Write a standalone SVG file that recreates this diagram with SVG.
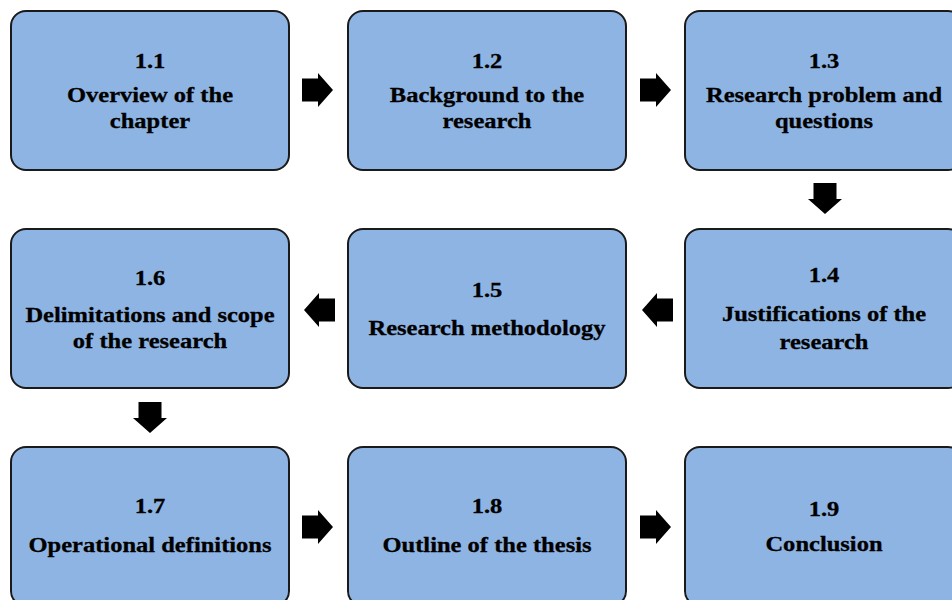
<svg xmlns="http://www.w3.org/2000/svg" xmlns:xlink="http://www.w3.org/1999/xlink" width="952" height="600" viewBox="0 0 952 600">
  <style>
    .box { fill: #8eb4e3; stroke: #1a1a1a; stroke-width: 2; }
    .lbl { font-family: "Liberation Serif", "Times New Roman", serif; font-weight: bold; font-size: 22px; fill: #000; stroke: #000; stroke-width: 0.3; text-anchor: middle; }
    .arrow { fill: #000; }
  </style>
  <defs>
    <!-- block arrow pointing right, origin at tail centre -->
    <path id="blockArrow" d="M0,-11.5 H16 V-17 L31,0 L16,17 V11.5 H0 Z"/>
  </defs>
  <rect width="952" height="600" fill="#ffffff"/>

  <g id="connectors" class="arrow">
    <use xlink:href="#blockArrow" transform="translate(302,90)"/>
    <use xlink:href="#blockArrow" transform="translate(640,90)"/>
    <use xlink:href="#blockArrow" transform="translate(825,183) rotate(90)"/>
    <use xlink:href="#blockArrow" transform="translate(673,310) rotate(180)"/>
    <use xlink:href="#blockArrow" transform="translate(335,310) rotate(180)"/>
    <use xlink:href="#blockArrow" transform="translate(150,402) rotate(90)"/>
    <use xlink:href="#blockArrow" transform="translate(302,527)"/>
    <use xlink:href="#blockArrow" transform="translate(640,527)"/>
  </g>

  <!-- labels are set in a slightly widened face: each text group is scaled 1.115 horizontally about the box centre -->
  <g id="n1-1">
    <rect class="box" x="11" y="11" width="278" height="159" rx="15"/>
    <g transform="matrix(1.115 0 0 1 150 0)">
      <text class="lbl" x="0" y="68">1.1</text>
      <text class="lbl" x="0" y="102">Overview of the</text>
      <text class="lbl" x="0" y="128">chapter</text>
    </g>
  </g>
  <g id="n1-2">
    <rect class="box" x="348" y="11" width="278" height="159" rx="15"/>
    <g transform="matrix(1.115 0 0 1 487 0)">
      <text class="lbl" x="0" y="68">1.2</text>
      <text class="lbl" x="0" y="102">Background to the</text>
      <text class="lbl" x="0" y="128">research</text>
    </g>
  </g>
  <g id="n1-3">
    <rect class="box" x="685" y="11" width="278" height="159" rx="15"/>
    <g transform="matrix(1.115 0 0 1 824 0)">
      <text class="lbl" x="0" y="68">1.3</text>
      <text class="lbl" x="0" y="102">Research problem and</text>
      <text class="lbl" x="0" y="128">questions</text>
    </g>
  </g>

  <g id="n1-4">
    <rect class="box" x="685" y="229" width="278" height="159" rx="15"/>
    <g transform="matrix(1.115 0 0 1 824 0)">
      <text class="lbl" x="0" y="282">1.4</text>
      <text class="lbl" x="0" y="321">Justifications of the</text>
      <text class="lbl" x="0" y="349">research</text>
    </g>
  </g>
  <g id="n1-5">
    <rect class="box" x="348" y="229" width="278" height="159" rx="15"/>
    <g transform="matrix(1.115 0 0 1 487 0)">
      <text class="lbl" x="0" y="297">1.5</text>
      <text class="lbl" x="0" y="335">Research methodology</text>
    </g>
  </g>
  <g id="n1-6">
    <rect class="box" x="11" y="229" width="278" height="159" rx="15"/>
    <g transform="matrix(1.115 0 0 1 150 0)">
      <text class="lbl" x="0" y="285">1.6</text>
      <text class="lbl" x="0" y="322">Delimitations and scope</text>
      <text class="lbl" x="0" y="348">of the research</text>
    </g>
  </g>

  <g id="n1-7">
    <rect class="box" x="11" y="447" width="278" height="159" rx="15"/>
    <g transform="matrix(1.115 0 0 1 150 0)">
      <text class="lbl" x="0" y="513">1.7</text>
      <text class="lbl" x="0" y="552">Operational definitions</text>
    </g>
  </g>
  <g id="n1-8">
    <rect class="box" x="348" y="447" width="278" height="159" rx="15"/>
    <g transform="matrix(1.115 0 0 1 487 0)">
      <text class="lbl" x="0" y="513">1.8</text>
      <text class="lbl" x="0" y="552">Outline of the thesis</text>
    </g>
  </g>
  <g id="n1-9">
    <rect class="box" x="685" y="447" width="278" height="159" rx="15"/>
    <g transform="matrix(1.115 0 0 1 824 0)">
      <text class="lbl" x="0" y="516">1.9</text>
      <text class="lbl" x="0" y="551">Conclusion</text>
    </g>
  </g>
</svg>
